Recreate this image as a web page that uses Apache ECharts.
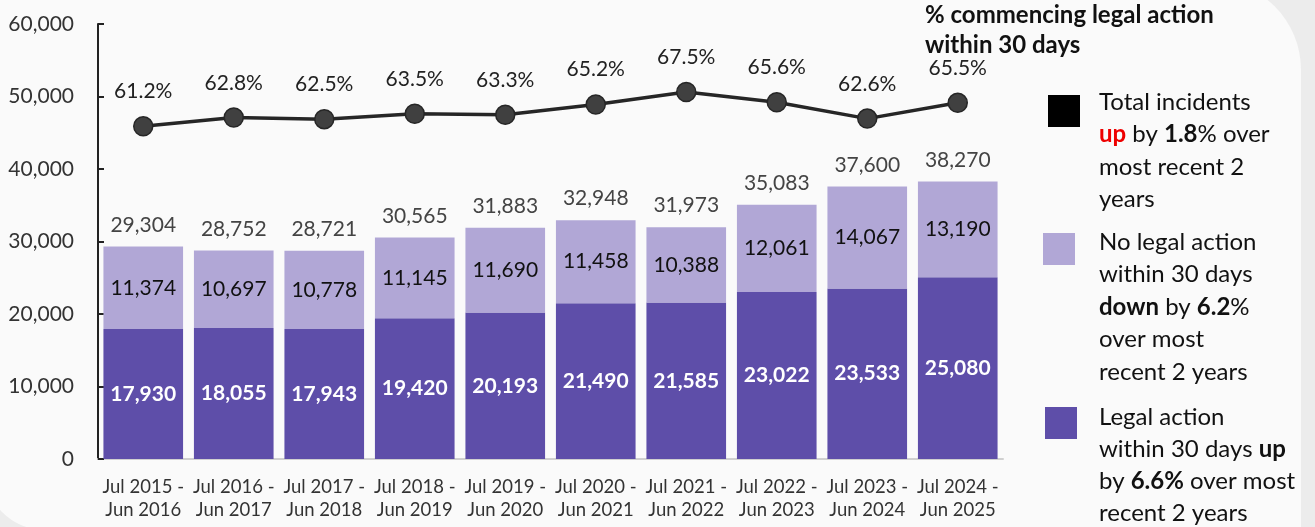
<!DOCTYPE html>
<html>
<head>
<meta charset="utf-8">
<script src="https://cdn.jsdelivr.net/npm/echarts@6/dist/echarts.min.js"></script>
<style>
  html, body { margin: 0; padding: 0; background: #ececec; }
  #chart { width: 1315px; height: 527px; }
</style>
</head>
<body>
<div id="chart"></div>
<script>
const periods = ['Jul 2015 -\nJun 2016', 'Jul 2016 -\nJun 2017', 'Jul 2017 -\nJun 2018', 'Jul 2018 -\nJun 2019',
  'Jul 2019 -\nJun 2020', 'Jul 2020 -\nJun 2021', 'Jul 2021 -\nJun 2022', 'Jul 2022 -\nJun 2023',
  'Jul 2023 -\nJun 2024', 'Jul 2024 -\nJun 2025'];
const legalAction = [17930, 18055, 17943, 19420, 20193, 21490, 21585, 23022, 23533, 25080];
const noLegalAction = [11374, 10697, 10778, 11145, 11690, 11458, 10388, 12061, 14067, 13190];
const totalIncidents = [29304, 28752, 28721, 30565, 31883, 32948, 31973, 35083, 37600, 38270];
const pctCommencing = [61.2, 62.8, 62.5, 63.5, 63.3, 65.2, 67.5, 65.6, 62.6, 65.5];
const totalPlaceholder = [0, 0, 0, 0, 0, 0, 0, 0, 0, 0];

const FONT = 'Lato, "Open Sans", sans-serif';
const fmt = v => v.toLocaleString('en-US');

let myChart = echarts.init(document.getElementById('chart'));
myChart.setOption({
  animation: false,
  textStyle: { fontFamily: FONT },
  grid: { left: 98, right: 312, top: 24, bottom: 68 },
  xAxis: {
    type: 'category',
    data: periods,
    axisLine: { lineStyle: { color: '#d0d0d0', width: 2 } },
    axisTick: { show: false },
    axisLabel: { color: '#333', fontSize: 18.5, lineHeight: 23, margin: 17, interval: 0 }
  },
  yAxis: [
    {
      type: 'value', min: 0, max: 60000, interval: 10000,
      axisLine: { show: true, lineStyle: { color: '#222', width: 2 } },
      axisTick: { show: true, inside: true, length: 6, lineStyle: { color: '#222', width: 2 } },
      splitLine: { show: false },
      axisLabel: { color: '#333', fontSize: 21, margin: 24, formatter: v => fmt(v) }
    },
    { type: 'value', min: 0, max: 80, show: false, splitLine: { show: false } }
  ],
  series: [
    {
      name: 'Legal action within 30 days', type: 'bar', stack: 'inc',
      barWidth: '88%',
      data: legalAction,
      itemStyle: { color: '#5e4ea9' },
      label: { show: true, position: 'inside', color: '#fff', fontWeight: 'bold', fontSize: 21,
        formatter: p => fmt(p.value) }
    },
    {
      name: 'No legal action within 30 days', type: 'bar', stack: 'inc',
      data: noLegalAction,
      itemStyle: { color: '#b1a7d6' },
      label: { show: true, position: 'inside', color: '#111', fontSize: 21,
        formatter: p => fmt(p.value) }
    },
    {
      name: 'Total incidents', type: 'bar', stack: 'inc',
      data: totalPlaceholder,
      itemStyle: { color: 'transparent' },
      label: { show: true, position: 'top', distance: 11, color: '#444', fontSize: 21,
        formatter: p => fmt(totalIncidents[p.dataIndex]) }
    },
    {
      name: '% commencing legal action within 30 days', type: 'line', yAxisIndex: 1,
      data: pctCommencing,
      symbol: 'circle', symbolSize: 19,
      lineStyle: { color: '#262626', width: 3.5 },
      itemStyle: { color: '#404040', borderColor: '#262626', borderWidth: 1.5 },
      label: { show: true, position: 'top', distance: 14, color: '#222', fontSize: 21,
        formatter: p => p.value.toFixed(1) + '%' }
    }
  ],
  graphic: [
    { type: 'rect', z: -10, shape: { x: -15, y: -20, width: 1316, height: 550, r: [0, 90, 0, 60] },
      style: { fill: '#fafafa' } },
    { type: 'text', left: 925, top: 0,
      style: { text: '% commencing legal action\nwithin 30 days', font: 'bold 24px ' + FONT,
        lineHeight: 30, fill: '#111' } },
    { type: 'rect', shape: { x: 1048, y: 95, width: 32, height: 32 }, style: { fill: '#000' } },
    { type: 'text', left: 1099, top: 86,
      style: { text: 'Total incidents\n{r|up} by {b|1.8}% over\nmost recent 2\nyears',
        font: '24px ' + FONT, lineHeight: 32.5, fill: '#111',
        rich: { r: { fill: '#e00', fontWeight: 'bold', fontSize: 24, fontFamily: FONT },
                b: { fontWeight: 'bold', fontSize: 24, fontFamily: FONT, fill: '#111' } } } },
    { type: 'rect', shape: { x: 1043, y: 233, width: 32, height: 32 }, style: { fill: '#b1a7d6' } },
    { type: 'text', left: 1099, top: 226,
      style: { text: 'No legal action\nwithin 30 days\n{b|down} by {b|6.2}%\nover most\nrecent 2 years',
        font: '24px ' + FONT, lineHeight: 32.5, fill: '#111',
        rich: { b: { fontWeight: 'bold', fontSize: 24, fontFamily: FONT, fill: '#111' } } } },
    { type: 'rect', shape: { x: 1045, y: 407, width: 32, height: 32 }, style: { fill: '#5e4ea9' } },
    { type: 'text', left: 1099, top: 401,
      style: { text: 'Legal action\nwithin 30 days {b|up}\nby {b|6.6%} over most\nrecent 2 years',
        font: '24px ' + FONT, lineHeight: 32, fill: '#111',
        rich: { b: { fontWeight: 'bold', fontSize: 24, fontFamily: FONT, fill: '#111' } } } }
  ]
});
window.addEventListener('resize', () => { if (myChart) myChart.resize(); });
</script>
</body>
</html>
